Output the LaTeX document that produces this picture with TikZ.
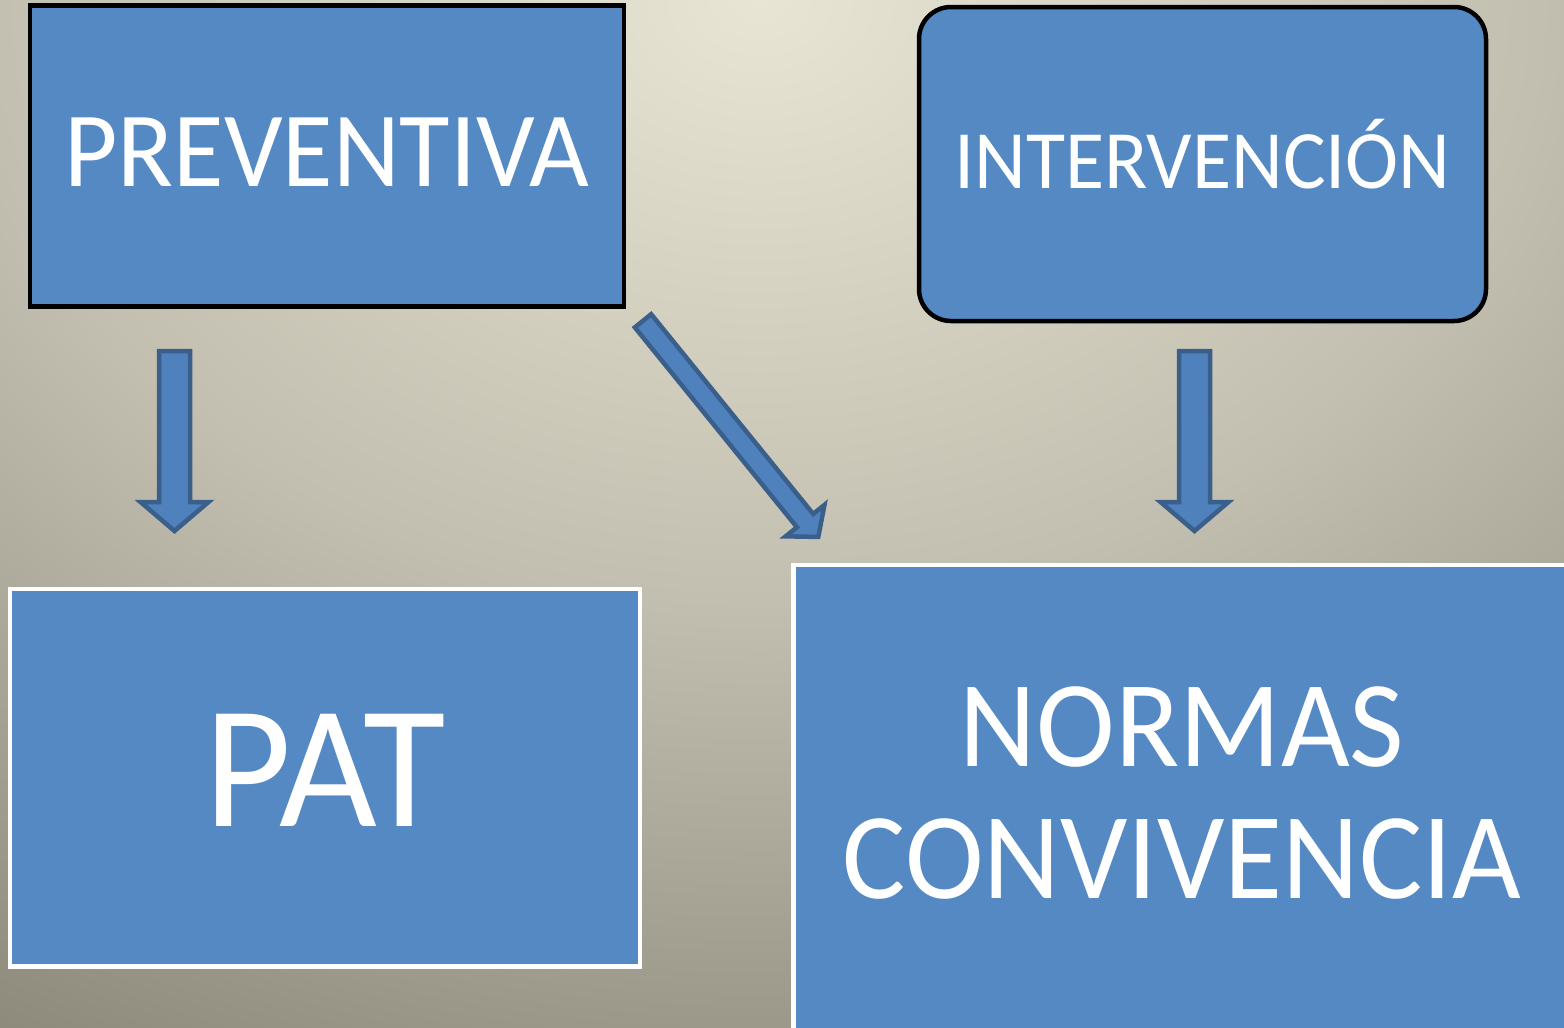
\documentclass[tikz,border=0pt]{standalone}
\usepackage{fontspec}
\newfontfamily\calib[FakeStretch=0.965]{Carlito}
\usetikzlibrary{calc}
\definecolor{bgin}{HTML}{E9E5D4}
\definecolor{bgmid}{HTML}{C3BFB0}
\definecolor{bgout}{HTML}{8D897A}
\definecolor{boxblue}{HTML}{5589C3}
\definecolor{arrfill}{HTML}{4F81BD}
\definecolor{arrline}{HTML}{3A5F8B}
\pgfdeclareradialshading{bgshade}{\pgfpoint{0bp}{0bp}}{color(0bp)=(bgin); color(12.5bp)=(bgmid); color(25bp)=(bgout); color(50bp)=(bgout)}
\tikzset{
  darkbox/.style={draw=black, line width=4.5pt, fill=boxblue, text=white, inner sep=0pt},
  lightbox/.style={draw=white, line width=4.5pt, fill=boxblue, text=white, inner sep=0pt},
  arrowbody/.style={draw=arrline, fill=arrfill, line width=4.5pt, miter limit=10, line join=miter},
}
% #1 start, #2 end, #3 shaft half width, #4 head half width, #5 head length
\newcommand\blockarrow[5]{%
  \coordinate (ba-h) at ($(#2)!#5!(#1)$);
  \draw[arrowbody] ($(#1)!#3!90:(#2)$) -- ($(ba-h)!#3!90:(#2)$) -- ($(ba-h)!#4!90:(#2)$)
    -- (#2) -- ($(ba-h)!#4!-90:(#2)$) -- ($(ba-h)!#3!-90:(#2)$) -- ($(#1)!#3!-90:(#2)$) -- cycle;
}
\begin{document}
\begin{tikzpicture}[x=1pt,y=-1pt]
\useasboundingbox (0,0) rectangle (1564,1028);
\clip (0,0) rectangle (1564,1028);
\fill[bgout] (0,0) rectangle (1564,1028);
\shade[shading=bgshade] (760,0) ellipse [x radius=1560pt, y radius=1200pt];

\node[darkbox, minimum width=594pt, minimum height=301pt,
      font=\calib\fontsize{107}{110}\selectfont, text height=68pt, text depth=8pt]
      (preventiva) at (327,156) {PREVENTIVA};
\node[darkbox, rounded corners=32pt, minimum width=567pt, minimum height=314pt,
      font=\calib\fontsize{83}{88}\selectfont, text height=53pt, text depth=5pt]
      (intervencion) at (1202.5,164) {INTERVENCIÓN};
\node[lightbox, minimum width=630pt, minimum height=377.5pt,
      font=\calib\fontsize{175}{180}\selectfont, text height=111pt, text depth=14pt]
      (pat) at (325,777.75) {PAT};
\node[lightbox, minimum width=826.5pt, minimum height=515pt] (normas) at (1206.75,822.5) {};
\node[text=white, inner sep=0pt, align=center, font=\calib\fontsize{123}{132}\selectfont]
      (normastxt) at (1182,793) {NORMAS\\CONVIVENCIA};

\coordinate (a1s) at (174.5,351);   \coordinate (a1e) at (174.5,531);
\coordinate (a2s) at (643,320.8);   \coordinate (a2e) at (818.3,536.9);
\coordinate (a3s) at (1194.5,351);  \coordinate (a3e) at (1194.5,531);
\blockarrow{a1s}{a1e}{15.5pt}{34pt}{29pt}
\blockarrow{a2s}{a2e}{10.5pt}{25pt}{21pt}
\blockarrow{a3s}{a3e}{15.5pt}{34pt}{29pt}
\end{tikzpicture}
\end{document}
